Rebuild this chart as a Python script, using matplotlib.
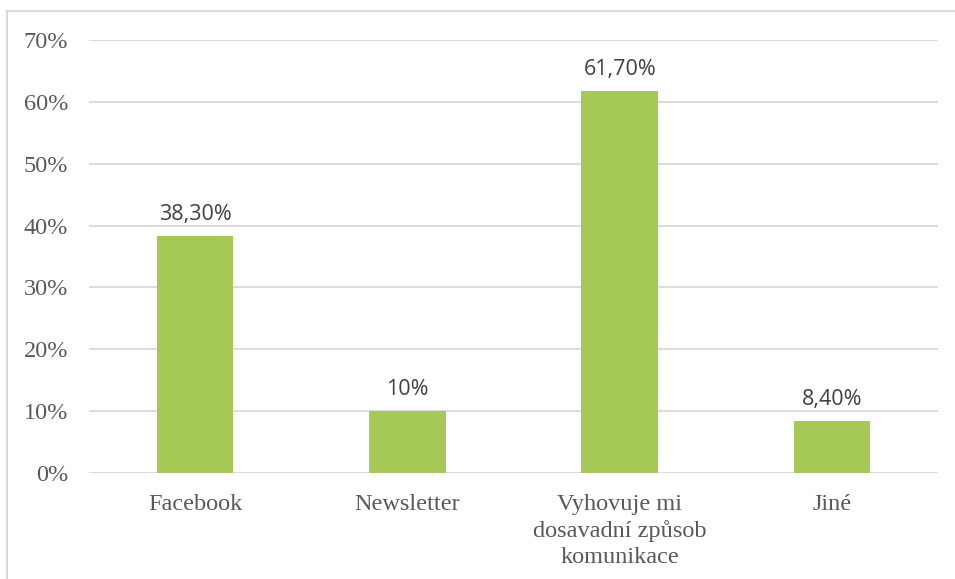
import matplotlib
matplotlib.use("Agg")
import matplotlib.pyplot as plt
from matplotlib.lines import Line2D

categories = ["Facebook", "Newsletter", "Vyhovuje mi\ndosavadní způsob\nkomunikace", "Jiné"]
values = [0.383, 0.10, 0.617, 0.084]
value_labels = ["38,30%", "10%", "61,70%", "8,40%"]
yticks = [0.0, 0.1, 0.2, 0.3, 0.4, 0.5, 0.6, 0.7]
ytick_labels = ["0%", "10%", "20%", "30%", "40%", "50%", "60%", "70%"]

W, H = 955, 579
fig = plt.figure(figsize=(W / 100, H / 100), dpi=100)
fig.patch.set_facecolor("white")

# outer chart border (top and left visible)
fig.add_artist(Line2D([7 / W, 7 / W], [0, 1 - 11 / H], transform=fig.transFigure, color="#D9D9D9", lw=1.5))
fig.add_artist(Line2D([7 / W, 1], [1 - 11 / H, 1 - 11 / H], transform=fig.transFigure, color="#D9D9D9", lw=1.5))

left, right = 89 / W, 938 / W
bottom, top = (H - 473) / H, (H - 40) / H
ax = fig.add_axes([left, bottom, right - left, top - bottom])

x = list(range(len(categories)))
bars = ax.bar(x, values, width=0.36, color="#A6C857", zorder=3)

ax.set_xlim(-0.5, len(categories) - 0.5)
ax.set_ylim(0, 0.7)
ax.set_yticks(yticks)
ax.set_yticklabels(ytick_labels, fontfamily="Liberation Serif", fontsize=17.5, color="#595959")
ax.set_xticks(x)
ax.set_xticklabels(categories, fontfamily="Liberation Serif", fontsize=17.5, color="#595959",
                   linespacing=1.32, va="top")
ax.tick_params(axis="both", length=0)
ax.tick_params(axis="y", pad=15)
ax.tick_params(axis="x", pad=15)

for s in ax.spines.values():
    s.set_visible(False)
ax.grid(axis="y", color="#D9D9D9", lw=1.3, zorder=0)
ax.set_axisbelow(True)

for xi, v, lab in zip(x, values, value_labels):
    ax.annotate(lab, (xi, v), xytext=(0, 8), textcoords="offset points",
                ha="center", va="bottom", fontfamily="Open Sans", fontsize=15.5, color="#404040")

fig.savefig("out.png", dpi=100)
